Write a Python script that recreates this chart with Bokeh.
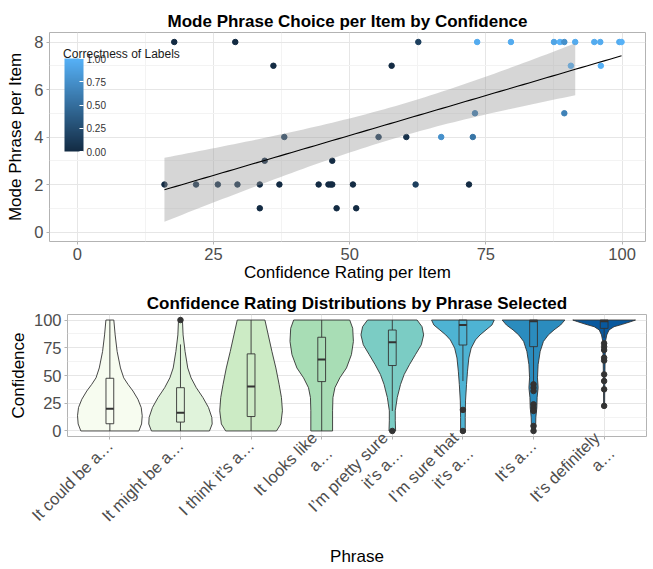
import numpy as np
from math import pi
from bokeh.plotting import figure
from bokeh.models import (LinearColorMapper, ColorBar, FixedTicker, Range1d,
                          NumeralTickFormatter, ColumnDataSource, Label)
from bokeh.embed import file_html
from bokeh.resources import INLINE

FONT = "Liberation Sans"

# ---------------- top panel data ----------------
conf_rating = [17.8, 29.0, 62.6, 73.4, 79.6, 87.5, 88.6, 89.4, 91.4, 94.9, 96.0, 99.5, 99.9,
               36.0, 57.7, 90.6, 96.1,
               73.0, 89.4,
               38.0, 55.3, 60.4, 66.8, 72.6,
               34.4, 46.8,
               16.0, 21.8, 25.8, 29.4, 33.5, 37.1, 44.3, 46.1, 46.5, 46.8, 50.6, 62.1, 71.9,
               33.5, 47.6, 51.2]
mode_phrase = [8, 8, 8, 8, 8, 8, 8, 8, 8, 8, 8, 8, 8,
               7, 7, 7, 7,
               5, 5,
               4, 4, 4, 4, 4,
               3, 3,
               2, 2, 2, 2, 2, 2, 2, 2, 2, 2, 2, 2, 2,
               1, 1, 1]
correctness = [0.0, 0.0, 0.15, 0.95, 0.95, 0.9, 1.0, 0.75, 0.95, 0.95, 0.95, 0.95, 1.0,
               0.0, 0.0, 1.0, 1.0,
               0.6, 0.65,
               0.15, 0.1, 0.05, 0.75, 0.55,
               0.0, 0.0,
               0.0, 0.05, 0.05, 0.05, 0.0, 0.0, 0.0, 0.0, 0.0, 0.0, 0.0, 0.15, 0.0,
               0.0, 0.0, 0.0]
x_ticks_top = [0, 25, 50, 75, 100]
y_ticks_top = [0, 2, 4, 6, 8]
legend_ticks = [0.0, 0.25, 0.5, 0.75, 1.0]

# ---------------- bottom panel data ----------------
phrases = ["It could be a…", "It might be a…", "I think it’s a…", "It looks like\na…",
           "I’m pretty sure\nit’s a…", "I’m sure that\nit’s a…", "It’s a…",
           "It’s definitely\na…"]
violin_fill = ["#F7FCF0", "#E0F3DB", "#CCEBC5", "#A8DDB5", "#7BCCC4", "#4EB3D3",
               "#2B8CBE", "#08589E"]
violin_levels = [
    [100, 86.6, 71.7, 56.8, 47.9, 42.0, 36.0, 28.6, 21.1, 13.7, 6.3, 0],
    [100, 86.6, 71.7, 56.8, 47.9, 39.0, 30.1, 21.1, 12.2, 6.3, 0],
    [100, 86.6, 71.7, 56.8, 42.0, 30.1, 18.2, 6.3, 0],
    [100, 92.6, 80.7, 68.8, 56.8, 47.9, 39.0, 30.1, 18.2, 0],
    [100, 94.0, 86.6, 77.7, 68.8, 59.8, 50.9, 42.0, 30.1, 18.2, 9.2, 0],
    [100, 95.5, 91.1, 86.6, 82.1, 74.7, 65.8, 53.9, 42.0, 27.1, 12.2, 0],
    [100, 95.5, 91.1, 86.6, 80.7, 71.7, 59.8, 47.9, 39.0, 30.1, 21.1, 12.2, 0],
    [100, 98.5, 96.1, 94.0, 91.1, 86.6, 80.7, 65.8, 42.0, 22.6],
]
violin_halfwidths = [
    [0.056, 0.075, 0.103, 0.150, 0.196, 0.257, 0.327, 0.397, 0.444, 0.458, 0.449, 0.411],
    [0.028, 0.037, 0.065, 0.103, 0.150, 0.224, 0.318, 0.397, 0.444, 0.449, 0.411],
    [0.196, 0.243, 0.295, 0.351, 0.397, 0.430, 0.444, 0.421, 0.360],
    [0.397, 0.439, 0.449, 0.421, 0.351, 0.257, 0.187, 0.159, 0.154, 0.154],
    [0.351, 0.421, 0.444, 0.411, 0.327, 0.243, 0.168, 0.117, 0.070, 0.042, 0.042, 0.047],
    [0.444, 0.411, 0.327, 0.243, 0.178, 0.117, 0.084, 0.065, 0.051, 0.037, 0.033, 0.033],
    [0.444, 0.383, 0.290, 0.210, 0.140, 0.094, 0.065, 0.056, 0.065, 0.051, 0.047, 0.033, 0.028],
    [0.444, 0.374, 0.257, 0.140, 0.070, 0.037, 0.019, 0.014, 0.009, 0.007],
]
box_q1 = [6.5, 8.0, 13.0, 44.5, 59.0, 77.5, 76.0, 92.5]
box_median = [20.0, 16.5, 40.0, 64.5, 80.0, 95.5, 99.0, 99.0]
box_q3 = [47.5, 39.0, 69.5, 84.5, 91.0, 100.0, 100.0, 100.0]
whisker_low = [0.0, 0.0, 0.0, 0.0, 18.0, 45.0, 44.0, 84.0]
whisker_high = [100.0, 78.0, 100.0, 100.0, 100.0, 100.0, 100.0, 100.0]
outliers = [[], [100], [], [], [0], [19, 0],
            [42, 39, 36, 24, 21, 18, 4.5, 0],
            [79, 76, 73, 66, 63.5, 51, 45, 37.5, 22.6]]
y_ticks_bottom = [0, 25, 50, 75, 100]

# ---------------- styling helpers ----------------
GRID = "#e6e6e6"
MINOR = "#f3f3f3"
BORDER = "#b3b3b3"
TICKLAB = "#4d4d4d"


def style_axes(p):
    for ax in (p.xaxis[0], p.yaxis[0]):
        ax.axis_line_color = None
        ax.major_tick_line_color = BORDER
        ax.major_tick_out = 3
        ax.major_tick_in = 0
        ax.minor_tick_line_color = None
        ax.major_label_text_font = FONT
        ax.major_label_text_font_size = "16.5px"
        ax.major_label_text_color = TICKLAB
        ax.axis_label_text_font = FONT
        ax.axis_label_text_font_size = "17px"
        ax.axis_label_text_font_style = "normal"
        ax.axis_label_text_color = "black"
        ax.major_label_standoff = 2
    p.xgrid.grid_line_color = GRID
    p.ygrid.grid_line_color = GRID
    p.xgrid.minor_grid_line_color = MINOR
    p.ygrid.minor_grid_line_color = MINOR
    p.outline_line_color = BORDER
    p.outline_line_width = 1
    p.title.text_font = FONT
    p.title.text_font_size = "17px"
    p.title.text_font_style = "bold"
    p.title.text_color = "black"
    p.title.align = "center"
    p.title.standoff = 4


# ---------------- top figure ----------------
p1 = figure(width=653, height=284, output_backend="svg", toolbar_location=None,
            x_range=Range1d(-5.1, 104.3), y_range=Range1d(-0.4, 8.4),
            title="Mode Phrase Choice per Item by Confidence",
            min_border_left=49, min_border_right=8, min_border_top=32, min_border_bottom=0)
p1.xaxis.axis_label = "Confidence Rating per Item"
p1.yaxis.axis_label = "Mode Phrase per Item"
p1.xaxis.ticker = FixedTicker(ticks=x_ticks_top, minor_ticks=[12.5, 37.5, 62.5, 87.5])
p1.yaxis.ticker = FixedTicker(ticks=y_ticks_top, minor_ticks=[1, 3, 5, 7])
style_axes(p1)
p1.xaxis.axis_label_standoff = 0
p1.yaxis.axis_label_standoff = 6

lo_rgb = (0x13, 0x2B, 0x43)
hi_rgb = (0x56, 0xB1, 0xF7)
palette = ["#%02x%02x%02x" % tuple(int(round(lo_rgb[k] + (hi_rgb[k] - lo_rgb[k]) * t / 255.0))
                                   for k in range(3)) for t in range(256)]
mapper = LinearColorMapper(palette=palette, low=0, high=1)

src = ColumnDataSource(dict(x=conf_rating, y=mode_phrase, c=correctness))
p1.scatter("x", "y", size=5.5, source=src,
           fill_color={"field": "c", "transform": mapper},
           line_color={"field": "c", "transform": mapper})

# linear fit with 95% confidence band (computed from the data)
xa = np.array(conf_rating, dtype=float)
ya = np.array(mode_phrase, dtype=float)
n = len(xa)
b1, b0 = np.polyfit(xa, ya, 1)
resid = ya - (b0 + b1 * xa)
s = np.sqrt(np.sum(resid ** 2) / (n - 2))
sxx = np.sum((xa - xa.mean()) ** 2)
T_CRIT = 2.02
xs = np.linspace(xa.min(), xa.max(), 80)
yhat = b0 + b1 * xs
se = s * np.sqrt(1.0 / n + (xs - xa.mean()) ** 2 / sxx)
band_lo = yhat - T_CRIT * se
band_hi = yhat + T_CRIT * se
keep = band_hi <= 8
p1.varea(x=xs[keep], y1=band_lo[keep], y2=band_hi[keep], fill_color="#999999", fill_alpha=0.4)
p1.line(xs, yhat, line_color="black", line_width=1.1)

cb = ColorBar(color_mapper=mapper, location=(15, 90), width=19, height=93, padding=0,
              orientation="vertical",
              ticker=FixedTicker(ticks=legend_ticks), formatter=NumeralTickFormatter(format="0.00"),
              major_label_text_font=FONT, major_label_text_font_size="10px",
              major_label_text_color="#333333", label_standoff=3,
              major_tick_line_color="white", major_tick_in=4, major_tick_out=0,
              minor_tick_line_color=None, bar_line_color=None,
              background_fill_alpha=0, border_line_color=None)
p1.add_layout(cb)
p1.add_layout(Label(x=-2.6, y=7.5, text="Correctness of Labels", text_font=FONT,
                    text_font_size="12px", text_color="#1a1a1a", text_baseline="alphabetic",
                    text_align="left"))

# ---------------- bottom figure ----------------
p2 = figure(width=653, height=285, output_backend="svg", toolbar_location=None,
            x_range=Range1d(0.4, 8.6), y_range=Range1d(-5, 105),
            title="Confidence Rating Distributions by Phrase Selected",
            min_border_left=67, min_border_right=7, min_border_top=30, min_border_bottom=0)
p2.xaxis.axis_label = "Phrase"
p2.yaxis.axis_label = "Confidence"
cats = list(range(1, len(phrases) + 1))
p2.xaxis.ticker = FixedTicker(ticks=cats)
p2.xaxis.major_label_overrides = {c: ph for c, ph in zip(cats, phrases)}
p2.xaxis.major_label_orientation = pi / 4
p2.yaxis.ticker = FixedTicker(ticks=y_ticks_bottom, minor_ticks=[12.5, 37.5, 62.5, 87.5])
style_axes(p2)
p2.xaxis.major_label_standoff = 3
p2.xaxis.axis_label_standoff = 0
p2.yaxis.axis_label_standoff = 3

vx, vy = [], []
for i, (lv, hw) in enumerate(zip(violin_levels, violin_halfwidths)):
    c = cats[i]
    lv = list(lv)
    hw = list(hw)
    vx.append([c - w for w in hw] + [c + w for w in hw[::-1]])
    vy.append(lv + lv[::-1])
p2.patches(vx, vy, fill_color=violin_fill, line_color="#333333", line_width=0.9)

BW = 0.055
p2.segment(x0=cats, y0=box_q3, x1=cats, y1=whisker_high, line_color="#333333", line_width=0.9)
p2.segment(x0=cats, y0=box_q1, x1=cats, y1=whisker_low, line_color="#333333", line_width=0.9)
p2.quad(left=[c - BW for c in cats], right=[c + BW for c in cats], bottom=box_q1, top=box_q3,
        fill_alpha=0, line_color="#333333", line_width=0.9)
p2.segment(x0=[c - BW for c in cats], y0=box_median, x1=[c + BW for c in cats], y1=box_median,
           line_color="#333333", line_width=2)
ox, oy = [], []
for c, outs in zip(cats, outliers):
    for v in outs:
        ox.append(c)
        oy.append(v)
p2.scatter(ox, oy, size=5.5, fill_color="#333333", line_color="#333333")

open("out.html", "w").write(file_html([p1, p2], INLINE))
